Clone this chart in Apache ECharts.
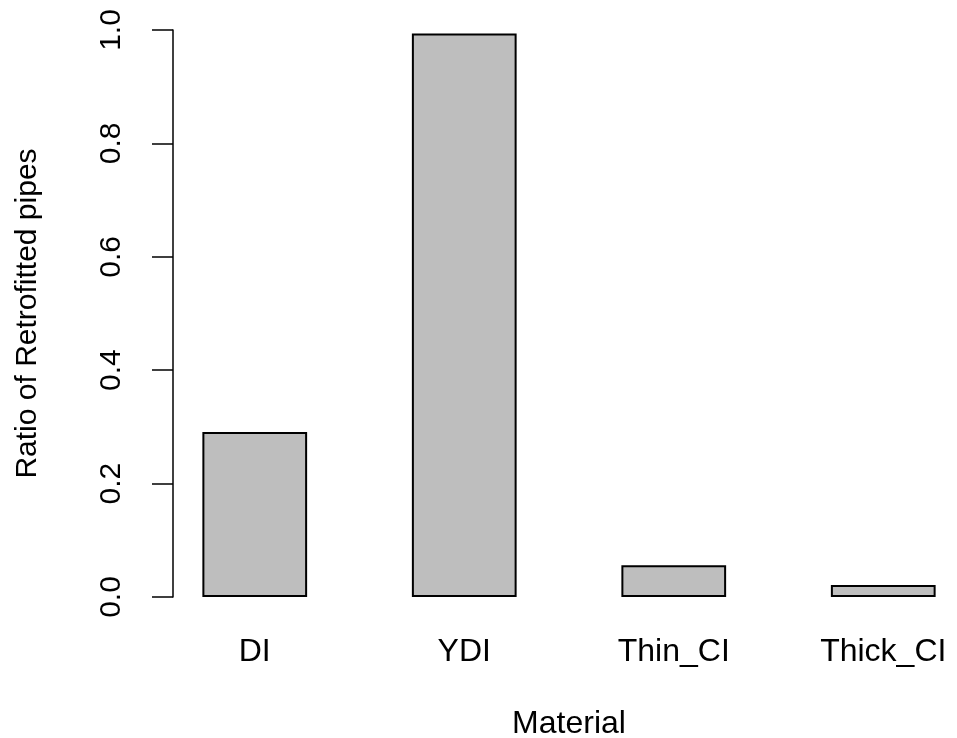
<!DOCTYPE html>
<html>
<head>
<meta charset="utf-8">
<script src="https://cdn.jsdelivr.net/npm/echarts@6/dist/echarts.min.js"></script>
<style>html,body{margin:0;padding:0;background:#fff}#c{width:957px;height:738px}</style>
</head>
<body>
<div id="c"></div>
<script>
var categories = ['DI', 'YDI', 'Thin_CI', 'Thick_CI'];
var ratios = [0.291, 0.994, 0.056, 0.021];
var yTicks = [0, 0.2, 0.4, 0.6, 0.8, 1.0];

var chart = echarts.init(document.getElementById('c'), null, {renderer: 'canvas'});
var font = 'Liberation Sans, Arial, sans-serif';
chart.setOption({
  animation: false,
  backgroundColor: '#ffffff',
  grid: {left: 150, width: 838, top: 30, height: 567, outerBoundsMode: 'none', containLabel: false},
  xAxis: {
    type: 'category',
    data: categories,
    axisLine: {show: false},
    axisTick: {show: false},
    axisLabel: {color: '#000', fontSize: 32, fontFamily: font, margin: 39},
    name: 'Material',
    nameLocation: 'middle',
    nameGap: 111,
    nameTextStyle: {color: '#000', fontSize: 32, fontFamily: font}
  },
  yAxis: {
    type: 'value',
    min: 0, max: 1, interval: 0.2,
    offset: -23,
    splitLine: {show: false},
    axisLine: {show: true, lineStyle: {color: '#000', width: 1.5}},
    axisTick: {show: true, length: 21, lineStyle: {color: '#000', width: 1.5}},
    axisLabel: {
      color: '#000', fontSize: 30, fontFamily: font, rotate: 90, margin: 46,
      formatter: function (v) { return v.toFixed(1); }
    },
    name: 'Ratio of Retrofitted pipes',
    nameLocation: 'middle',
    nameRotate: 90,
    nameGap: 130,
    nameTextStyle: {color: '#000', fontSize: 30, fontFamily: font}
  },
  series: [{
    type: 'bar',
    data: ratios,
    barWidth: '50%',
    itemStyle: {color: '#BEBEBE', borderColor: '#000', borderWidth: 2}
  }]
});
</script>
</body>
</html>
